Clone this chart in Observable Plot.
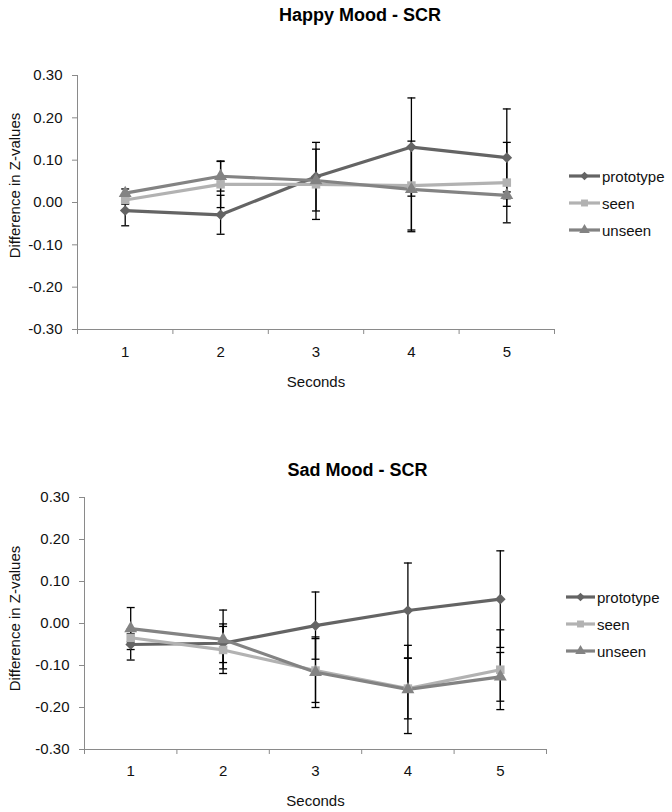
<!DOCTYPE html>
<html>
<head>
<meta charset="utf-8">
<script src="https://cdn.jsdelivr.net/npm/d3@7"></script>
<script src="https://cdn.jsdelivr.net/npm/@observablehq/plot@0.6"></script>
<style>
  html, body { margin: 0; padding: 0; background: #fff; }
  #wrap { position: relative; width: 672px; height: 812px; background: #fff; font-family: "Liberation Sans", Arial, sans-serif; }
  .chart { position: absolute; left: 0; }
  .leg { position: absolute; display: flex; align-items: center; height: 20px; font-size: 15px; color: #111; }
  .leg svg { display: block; }
</style>
</head>
<body>
<div id="wrap"></div>
<script>
// ---- data ----
const seconds = [1, 2, 3, 4, 5];
const seriesNames = ["prototype", "seen", "unseen"];
const seriesColors = ["#646464", "#b2b2b2", "#838383"];
const yTicks = [-0.3, -0.2, -0.1, 0, 0.1, 0.2, 0.3];

const happyTitle = "Happy Mood - SCR";
const happyPrototype   = [-0.019, -0.029, 0.061, 0.131, 0.106];
const happyPrototypeSE = [0.036, 0.046, 0.081, 0.116, 0.115];
const happySeen        = [0.006, 0.043, 0.043, 0.040, 0.047];
const happySeenSE      = [0.010, 0.055, 0.083, 0.105, 0.095];
const happyUnseen      = [0.022, 0.062, 0.052, 0.031, 0.017];
const happyUnseenSE    = [0.010, 0.035, 0.008, 0.100, 0.008];

const sadTitle = "Sad Mood - SCR";
const sadPrototype   = [-0.050, -0.047, -0.005, 0.031, 0.058];
const sadPrototypeSE = [0.037, 0.046, 0.080, 0.113, 0.115];
const sadSeen        = [-0.034, -0.063, -0.112, -0.155, -0.110];
const sadSeenSE      = [0.010, 0.056, 0.076, 0.072, 0.095];
const sadUnseen      = [-0.012, -0.038, -0.116, -0.157, -0.127];
const sadUnseenSE    = [0.050, 0.070, 0.084, 0.105, 0.058];

const xLabel = "Seconds";
const yLabel = "Difference in Z-values";

function rowsOf(vals, ses) {
  return seriesNames.flatMap((s, i) => seconds.map((t, j) => ({series: s, t, v: vals[i][j], se: ses[i][j]})));
}
const happyRows = rowsOf([happyPrototype, happySeen, happyUnseen], [happyPrototypeSE, happySeenSE, happyUnseenSE]);
const sadRows = rowsOf([sadPrototype, sadSeen, sadUnseen], [sadPrototypeSE, sadSeenSE, sadUnseenSE]);

const diamond = d3.symbolDiamond2 || d3.symbolDiamond;
const capSymbol = {draw(ctx, size) { const w = Math.sqrt(size) / 2; ctx.moveTo(-w, 0); ctx.lineTo(w, 0); }};
const font = "'Liberation Sans', Arial, sans-serif";

function chart(rows, title, m, titleDy, titleDx, yTitleDx, yTitleDy, labelPad, secDy) {
  const boundaries = d3.range(0.5, 6, 1);
  return Plot.plot({
    width: 672,
    height: m.height,
    marginTop: m.top, marginBottom: m.bottom, marginLeft: m.left, marginRight: m.right,
    style: {fontFamily: font, fontSize: "15px", background: "white", color: "#111", overflow: "visible"},
    x: {type: "linear", domain: [0.5, 5.5], axis: null, label: null},
    y: {type: "linear", domain: [-0.3, 0.3], axis: null, label: null},
    color: {domain: seriesNames, range: seriesColors},
    symbol: {domain: seriesNames, range: [diamond, d3.symbolSquare, d3.symbolTriangle]},
    marks: [
      Plot.ruleX([0.5], {stroke: "#8a8a8a", strokeWidth: 1}),
      Plot.ruleY([-0.3], {stroke: "#8a8a8a", strokeWidth: 1}),
      Plot.axisY({ticks: yTicks, label: null, tickSize: 5, tickPadding: 10, tickFormat: d => d.toFixed(2), stroke: "#8a8a8a", fill: "#111", fontSize: 15}),
      Plot.axisX({ticks: boundaries, label: null, tickSize: 5, tickFormat: () => "", stroke: "#8a8a8a"}),
      Plot.axisX({ticks: seconds, label: null, tickSize: 0, tickPadding: labelPad, tickFormat: d => String(d), fill: "#111", fontSize: 15}),
      Plot.text([xLabel], {frameAnchor: "bottom", lineAnchor: "middle", textAnchor: "middle", dy: secDy, fontSize: 15, fill: "#111"}),
      Plot.text([yLabel], {frameAnchor: "left", lineAnchor: "middle", textAnchor: "middle", rotate: -90, dx: yTitleDx, dy: yTitleDy, fontSize: 15, fill: "#111"}),
      Plot.text([title], {frameAnchor: "top", lineAnchor: "middle", textAnchor: "middle", dy: titleDy, dx: titleDx, fontSize: 18, fontWeight: "bold", fill: "#000"}),
      Plot.ruleX(rows, {x: "t", y1: d => d.v - d.se, y2: d => d.v + d.se, stroke: "#000", strokeWidth: 1.3}),
      Plot.dot(rows, {x: "t", y: d => d.v + d.se, symbol: capSymbol, r: 4.5, stroke: "#000", strokeWidth: 1.3, fill: "none"}),
      Plot.dot(rows, {x: "t", y: d => d.v - d.se, symbol: capSymbol, r: 4.5, stroke: "#000", strokeWidth: 1.3, fill: "none"}),
      Plot.line(rows, {x: "t", y: "v", z: "series", stroke: "series", strokeWidth: 3.2}),
      Plot.dot(rows, {x: "t", y: "v", symbol: "series", fill: "series", stroke: "none", r: 4.8})
    ]
  });
}

const wrap = document.getElementById("wrap");

const top1 = chart(happyRows, happyTitle, {height: 405, top: 75, bottom: 76, left: 77, right: 118}, -60, 44, -62, -17, 17, 53);
top1.classList.add("chart"); top1.style.top = "0px";
wrap.appendChild(top1);

const top2 = chart(sadRows, sadTitle, {height: 407, top: 92, bottom: 63, left: 84, right: 126}, -27, 42, -69, -5, 16, 52);
top2.classList.add("chart"); top2.style.top = "405px";
wrap.appendChild(top2);

// legends
const legendSymbols = [diamond, d3.symbolSquare, d3.symbolTriangle];
function legend(left, tops, swatchW) {
  seriesNames.forEach((name, i) => {
    const div = document.createElement("div");
    div.className = "leg";
    div.style.left = left + "px";
    div.style.top = (tops[i] - 10) + "px";
    const svg = d3.create("svg").attr("width", swatchW + 2).attr("height", 20);
    svg.append("line").attr("x1", 0).attr("x2", swatchW).attr("y1", 10).attr("y2", 10)
      .attr("stroke", seriesColors[i]).attr("stroke-width", 3.2);
    svg.append("path").attr("transform", `translate(${swatchW / 2},10)`)
      .attr("d", d3.symbol(legendSymbols[i], 48)()).attr("fill", seriesColors[i]);
    div.appendChild(svg.node());
    const span = document.createElement("span");
    span.textContent = name;
    div.appendChild(span);
    wrap.appendChild(div);
  });
}
legend(569, [176, 203, 230], 31);
legend(566, [597, 624, 651], 29);
</script>
</body>
</html>
